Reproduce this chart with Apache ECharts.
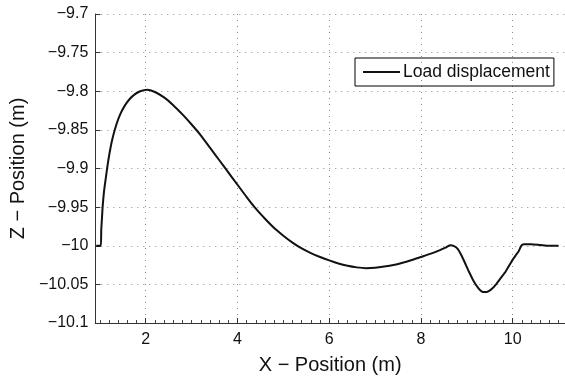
<!DOCTYPE html>
<html>
<head>
<meta charset="utf-8">
<script src="https://cdn.jsdelivr.net/npm/echarts@6/dist/echarts.min.js"></script>
<style>html,body{margin:0;padding:0;background:#fff}#c{width:565px;height:380px}</style>
</head>
<body>
<div id="c"></div>
<script>
var seriesName = 'Load displacement';
var xTitle = 'X \u2212 Position (m)';
var yTitle = 'Z \u2212 Position (m)';
var xValues = [0.92, 1.02, 1.03, 1.045, 1.06, 1.09, 1.13, 1.17, 1.22, 1.28, 1.36, 1.45, 1.55, 1.65, 1.76, 1.88, 2.03, 2.2, 2.4, 2.6, 2.8, 3.0, 3.2, 3.4, 3.6, 3.8, 4.0, 4.2, 4.4, 4.6, 4.8, 5.0, 5.2, 5.4, 5.6, 5.8, 6.0, 6.2, 6.4, 6.6, 6.8, 7.0, 7.2, 7.4, 7.6, 7.8, 8.0, 8.2, 8.4, 8.55, 8.64, 8.72, 8.8, 8.87, 8.95, 9.05, 9.15, 9.25, 9.32, 9.39, 9.47, 9.56, 9.65, 9.75, 9.85, 9.93, 10.0, 10.07, 10.13, 10.17, 10.2, 10.25, 10.4, 10.6, 10.8, 11.0];
var zValues = [-10.0, -10.0, -9.98, -9.965, -9.95, -9.93, -9.912, -9.895, -9.877, -9.86, -9.843, -9.829, -9.818, -9.81, -9.804, -9.8, -9.798, -9.801, -9.808, -9.818, -9.83, -9.843, -9.857, -9.873, -9.889, -9.905, -9.921, -9.937, -9.952, -9.965, -9.977, -9.987, -9.996, -10.0035, -10.0095, -10.0145, -10.019, -10.023, -10.026, -10.028, -10.029, -10.0285, -10.027, -10.025, -10.022, -10.0185, -10.0145, -10.0105, -10.006, -10.002, -9.9995, -10.0005, -10.004, -10.011, -10.021, -10.034, -10.046, -10.055, -10.059, -10.06, -10.059, -10.055, -10.049, -10.041, -10.033, -10.025, -10.018, -10.012, -10.007, -10.002, -9.999, -9.998, -9.998, -9.999, -10.0, -10.0];
var yTickMin = -10.1, yTickMax = -9.7, yTickStep = 0.05;

var data = xValues.map(function (x, i) { return [x, zValues[i]]; });
function minus(v) { return String(v).replace('-', '\u2212'); }

var chart = echarts.init(document.getElementById('c'), null, {renderer: 'canvas'});
var font = 'Liberation Sans, Arial, Helvetica, sans-serif';
var gridLine = {show: true, lineStyle: {color: '#8a8a8a', width: 1, type: [1, 5]}};
chart.setOption({
  animation: false,
  backgroundColor: '#fff',
  grid: {left: 89, right: -3, top: 14, bottom: 56, containLabel: false},
  legend: {
    show: true, data: [{name: seriesName, icon: 'rect'}], left: 355, top: 58,
    padding: [5, 4, 5, 8], borderColor: '#000', borderWidth: 1,
    itemWidth: 37, itemHeight: 2, itemGap: 0,
    textStyle: {fontFamily: font, fontSize: 17.5, color: '#111', padding: [0, 0, 0, -2]}
  },
  xAxis: {
    type: 'value', min: 0.9, max: 11.14,
    splitNumber: 5,
    axisLine: {show: true, onZero: false, lineStyle: {color: '#333', width: 1}},
    axisTick: {show: true, inside: true, length: 5, lineStyle: {color: '#333'}},
    minorTick: {show: true, splitNumber: 10, length: 3, lineStyle: {color: '#444'}},
    axisLabel: {showMinLabel: false, showMaxLabel: false, margin: 9, fontFamily: font, fontSize: 16, color: '#111',
      formatter: function (v) { return (Math.abs(v - Math.round(v)) < 1e-6 && Math.round(v) % 2 === 0) ? minus(v) : ''; }},
    splitLine: gridLine,
    name: xTitle, nameLocation: 'middle', nameGap: 32,
    nameTextStyle: {fontFamily: font, fontSize: 20, color: '#111'}
  },
  yAxis: {
    type: 'value', min: yTickMin, max: yTickMax, interval: yTickStep,
    axisLine: {show: true, onZero: false, lineStyle: {color: '#333', width: 1}},
    axisTick: {show: true, inside: true, length: 5, lineStyle: {color: '#333'}},
    axisLabel: {margin: 7, fontFamily: font, fontSize: 16, color: '#111', formatter: function (v) { return minus(+v.toFixed(2)); }},
    splitLine: gridLine,
    name: yTitle, nameLocation: 'middle', nameGap: 62,
    nameTextStyle: {fontFamily: font, fontSize: 20, color: '#111'}
  },
  series: [{
    name: seriesName, type: 'line', data: data, symbol: 'none', smooth: 0.2,
    lineStyle: {color: '#111', width: 2}, itemStyle: {color: '#111'}
  }]
});
</script>
</body>
</html>
